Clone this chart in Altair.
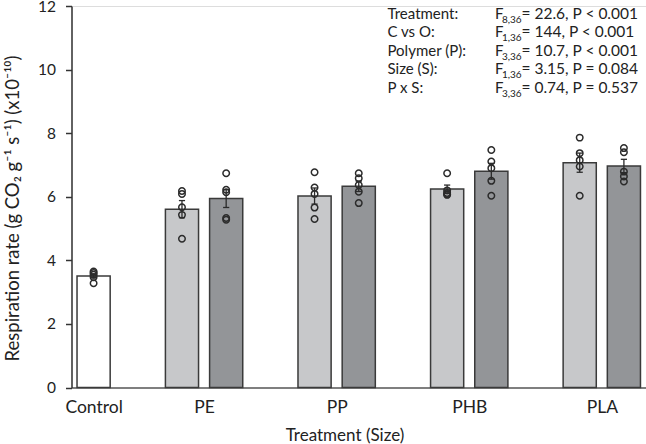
import altair as alt
import pandas as pd
import numpy as np

# Treatments in plotting order
polymers = ["Control", "PE", "PE", "PP", "PP", "PHB", "PHB", "PLA", "PLA"]
sizes = ["Control", "small", "large", "small", "large", "small", "large", "small", "large"]

# Individual replicate measurements (x10^-10 g CO2 g-1 s-1)
reps = [
    [3.65, 3.60, 3.55, 3.47, 3.28],
    [6.18, 6.09, 5.67, 5.43, 4.68],
    [6.74, 6.22, 6.14, 5.33, 5.28],
    [6.77, 6.29, 6.09, 5.66, 5.30],
    [6.74, 6.58, 6.37, 6.16, 5.80],
    [6.74, 6.20, 6.12, 6.08, 6.06],
    [7.47, 7.11, 6.90, 6.50, 6.03],
    [7.86, 7.37, 7.15, 6.95, 6.03],
    [7.53, 7.40, 6.79, 6.64, 6.48],
]

group_labels = ["Control", "PE", "PP", "PHB", "PLA"]

# ANOVA summary
stat_terms = ["Treatment:", "C vs O:", "Polymer (P):", "Size (S):", "P x S:"]
stat_df = ["8,36", "1,36", "3,36", "1,36", "3,36"]
stat_F = ["22.6", "144", "10.7", "3.15", "0.74"]
stat_P = ["< 0.001", "< 0.001", "< 0.001", "= 0.084", "= 0.537"]

# Slot layout: control, gap, then a pair of slots per polymer separated by gaps
slots = [0]
for k in range(4):
    slots += [2 + 3 * k, 3 + 3 * k]
n_slots = 13
group_centres = [0.5] + [3 + 3 * k for k in range(4)]

rows = []
pts = []
for i, (p, s, r) in enumerate(zip(polymers, sizes, reps)):
    arr = np.array(r)
    mean = arr.mean()
    se = arr.std(ddof=1) / np.sqrt(len(arr))
    c = slots[i] + 0.5
    rows.append(dict(polymer=p, size=s, mean=mean, lo=mean - se, hi=mean + se,
                     x0=c - 0.375, x1=c + 0.375, xc=c, c0=c - 0.07, c1=c + 0.07))
    for v in r:
        pts.append(dict(polymer=p, size=s, xc=c, value=v))
bars = pd.DataFrame(rows)
points = pd.DataFrame(pts)

FONT = "Lato"
INK = "#222222"

label_expr = " : ".join(
    [f"datum.value < {b} ? '{t}'" for b, t in zip([1.5, 4.5, 7.5, 10.5], group_labels[:4])]
    + [f"'{group_labels[4]}'"]
)

xscale = alt.Scale(domain=[0, n_slots], nice=False, zero=False)
yscale = alt.Scale(domain=[0, 12], nice=False)

x_axis = alt.Axis(
    values=group_centres, labelExpr=label_expr, ticks=False, grid=False,
    domainColor="#5a5a5a", domainWidth=1.5, labelFont=FONT, labelFontSize=17.5,
    labelColor=INK, labelBaseline="alphabetic", labelPadding=25,
    title="Treatment (Size)", titleFont=FONT, titleFontSize=17, titleFontWeight="normal",
    titleColor=INK, titleX=273, titleY=53, titleAlign="center", titleBaseline="alphabetic",
)
y_axis = alt.Axis(
    values=[0, 2, 4, 6, 8, 10, 12], grid=False, tickSize=6, tickColor="#333333",
    domainColor="#333333", domainWidth=1.5, tickWidth=1.5, labelFont=FONT,
    labelFontSize=15.5, labelColor=INK, labelPadding=10,
    title="Respiration rate (g CO\u2082 g\u207b\u00b9 s\u207b\u00b9) (x10\u207b\u00b9\u2070)",
    titleFont=FONT, titleFontSize=18.5, titleFontWeight="normal", titleColor=INK,
    titleX=-53, titleY=202, titleAlign="center", titleBaseline="alphabetic", titleAngle=270,
)

color = alt.Color("size:N", scale=alt.Scale(domain=["Control", "small", "large"],
                                             range=["#ffffff", "#c7c8ca", "#939598"]),
                  legend=None)

bar_layer = alt.Chart(bars).mark_bar(stroke="#3a3a3a", strokeWidth=1.5).encode(
    x=alt.X("x0:Q", scale=xscale, axis=x_axis),
    x2="x1:Q",
    y=alt.Y("mean:Q", scale=yscale, axis=y_axis),
    y2=alt.datum(0),
    fill=color,
)

err_layer = alt.Chart(bars).mark_rule(color="#2b2b2b", strokeWidth=1.3).encode(
    x="xc:Q", y="lo:Q", y2="hi:Q"
)
cap_lo = alt.Chart(bars).mark_rule(color="#2b2b2b", strokeWidth=1.3).encode(
    x="c0:Q", x2="c1:Q", y="lo:Q"
)
cap_hi = alt.Chart(bars).mark_rule(color="#2b2b2b", strokeWidth=1.3).encode(
    x="c0:Q", x2="c1:Q", y="hi:Q"
)

pt_layer = alt.Chart(points).mark_point(
    shape="circle", filled=False, size=42, strokeWidth=1.5, color="#2b2b2b", opacity=1
).encode(x="xc:Q", y="value:Q")

# ANOVA table, top right
one = pd.DataFrame({"k": [0]})
LH = 18.4
base = dict(font=FONT, color=INK, align="left", baseline="alphabetic", lineHeight=LH)
t_terms = alt.Chart(one).mark_text(text=stat_terms, fontSize=15, **base).encode(
    x=alt.value(387.5 - 71.5), y=alt.value(19 - 6))
t_F = alt.Chart(one).mark_text(text=["F"] * len(stat_terms), fontSize=15, **base).encode(
    x=alt.value(495 - 71.5), y=alt.value(19 - 6))
t_sub = alt.Chart(one).mark_text(text=stat_df, fontSize=10, **base).encode(
    x=alt.value(502 - 71.5), y=alt.value(23 - 6))
t_rest = alt.Chart(one).mark_text(
    text=[f"= {f}, P {p}" for f, p in zip(stat_F, stat_P)], fontSize=15.5, **base
).encode(x=alt.value(521.5 - 71.5), y=alt.value(19 - 6))

chart = alt.layer(
    bar_layer, err_layer, cap_lo, cap_hi, pt_layer, t_terms, t_F, t_sub, t_rest
).properties(
    width=574.5, height=381.5,
    autosize=alt.AutoSizeParams(type="none"),
    padding={"left": 71.5, "top": 6, "right": 0, "bottom": 56.5},
).configure_view(stroke=None).configure(background="#ffffff")

chart.save("out.html", embed_options={"renderer": "svg", "actions": False})
